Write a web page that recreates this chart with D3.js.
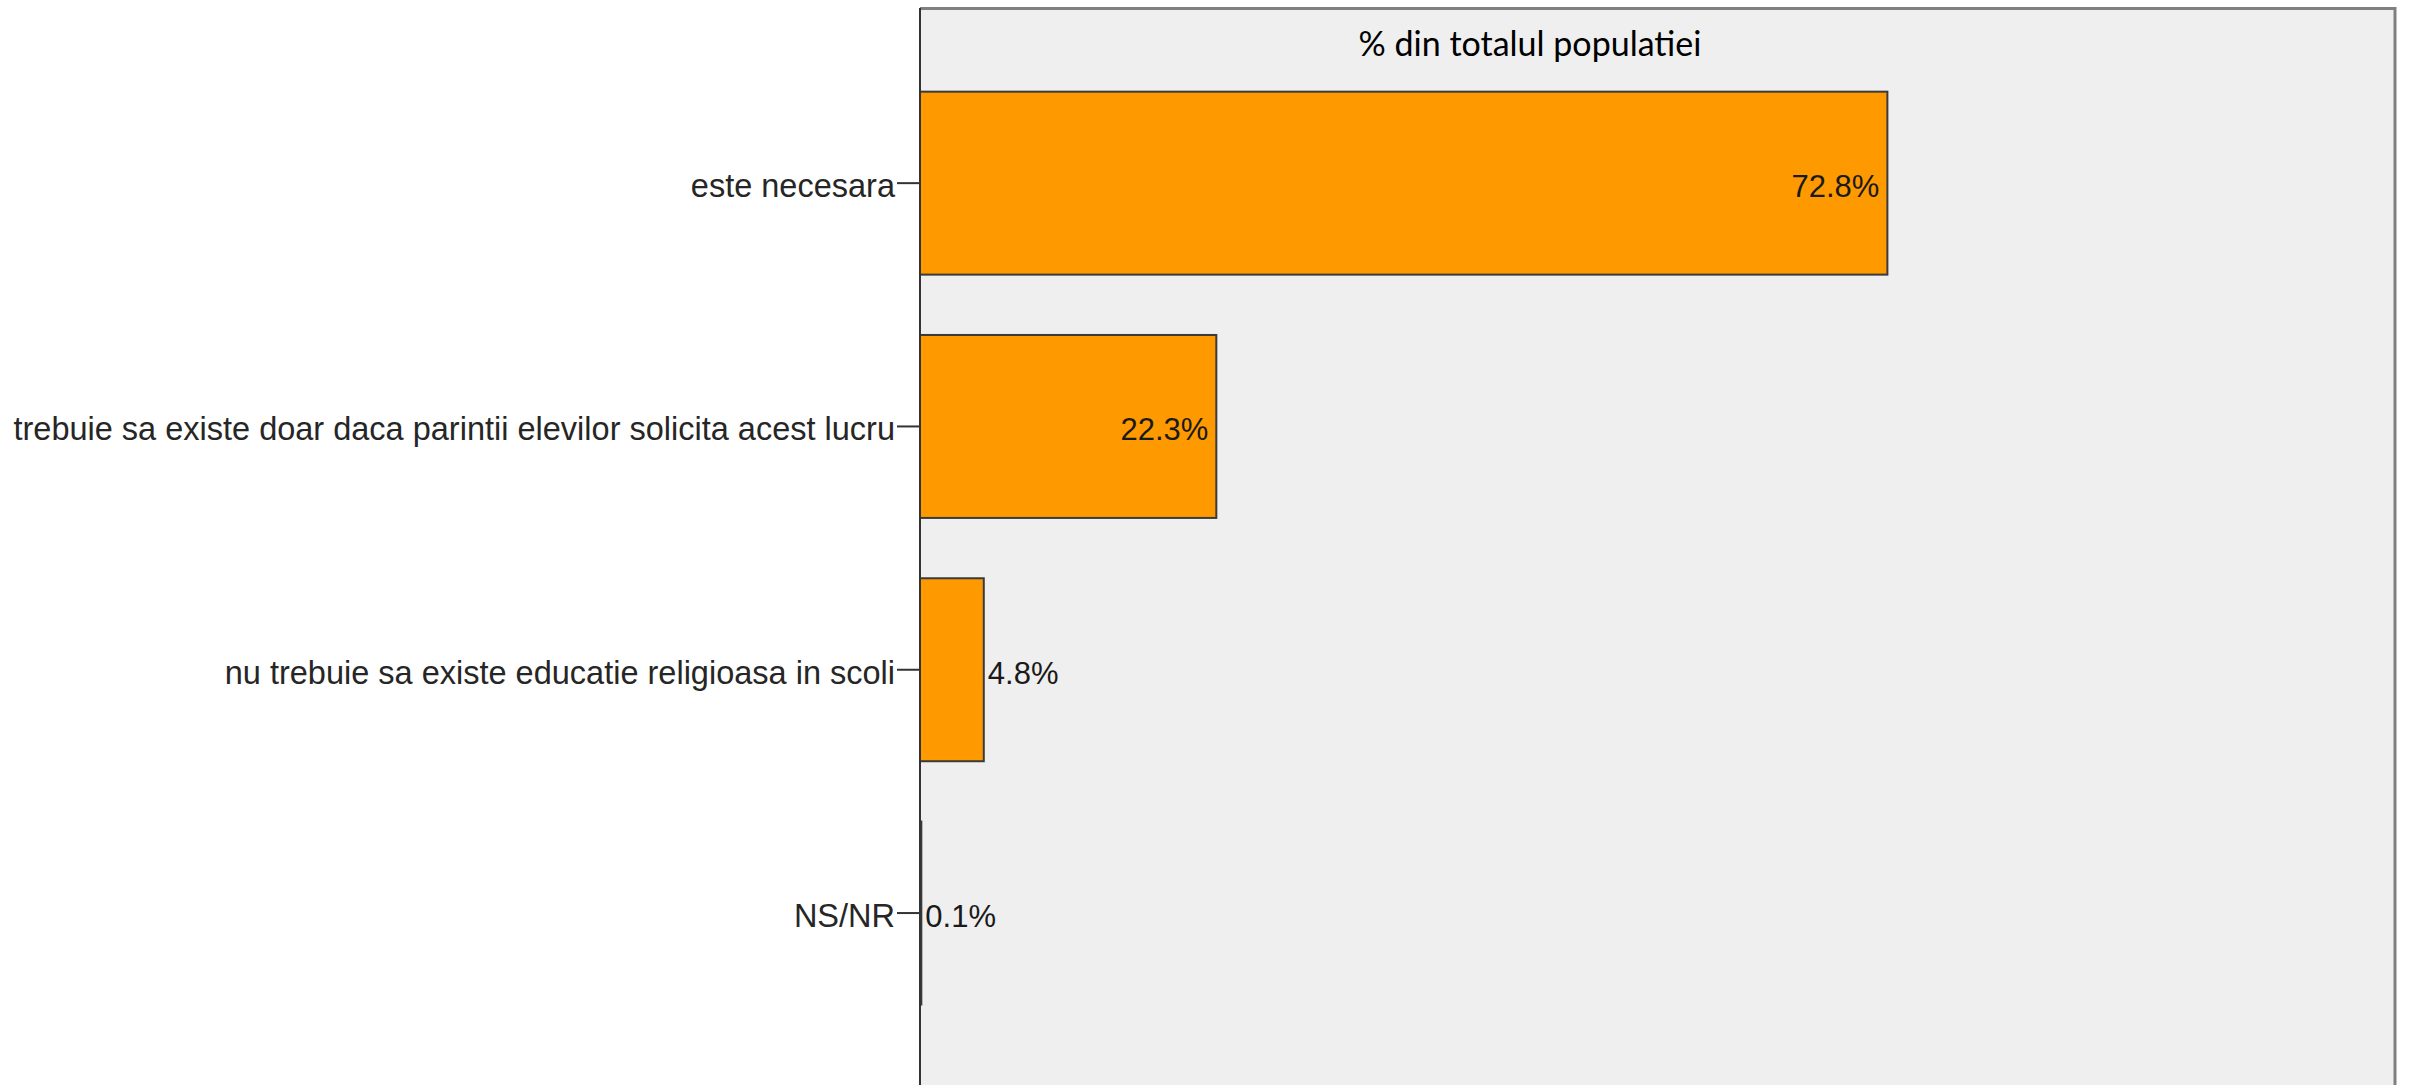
<!DOCTYPE html>
<html>
<head>
<meta charset="utf-8">
<script src="https://cdn.jsdelivr.net/npm/d3@7"></script>
<style>
  html, body { margin: 0; padding: 0; background: #ffffff; }
  svg { display: block; }
</style>
</head>
<body>
<svg id="chart" width="2415" height="1085"></svg>
<script>
const categories = [
  "este necesara",
  "trebuie sa existe doar daca parintii elevilor solicita acest lucru",
  "nu trebuie sa existe educatie religioasa in scoli",
  "NS/NR"
];
const values = [72.8, 22.3, 4.8, 0.1];
const valueLabels = ["72.8%", "22.3%", "4.8%", "0.1%"];
const panelTitle = "% din totalul populatiei";
const xDomainMax = 111;

const W = 2415, H = 1085;
const plotLeft = 920, plotRight = 2395, plotTop = 8;

const svg = d3.select("#chart");

const x = d3.scaleLinear().domain([0, xDomainMax]).range([plotLeft, plotRight]);
const y = d3.scaleBand().domain(categories)
  .range([61.5, 1034.7]).paddingInner(0.248).paddingOuter(0.124);

// plot background
svg.append("rect")
  .attr("x", plotLeft).attr("y", plotTop)
  .attr("width", plotRight - plotLeft).attr("height", H - plotTop + 10)
  .attr("fill", "#efefef");

// top and right border (gray)
svg.append("path")
  .attr("d", `M${plotLeft},${plotTop + 0.5} H${plotRight} V${H + 5}`)
  .attr("fill", "none").attr("stroke", "#808080").attr("stroke-width", 3);

// panel title
svg.append("text")
  .attr("x", 1530).attr("y", 56)
  .attr("text-anchor", "middle")
  .attr("font-family", "Lato, 'Open Sans', sans-serif")
  .attr("font-size", 34)
  .attr("fill", "#000")
  .text(panelTitle);

// bars
svg.selectAll("rect.bar").data(categories).enter().append("rect")
  .attr("class", "bar")
  .attr("x", x(0))
  .attr("y", d => y(d))
  .attr("width", (d, i) => x(values[i]) - x(0))
  .attr("height", y.bandwidth())
  .attr("fill", "#ff9900")
  .attr("stroke", "#3a3a3a")
  .attr("stroke-width", 2);

// y axis
const yAxis = d3.axisLeft(y).tickSize(23).tickPadding(2);
const gy = svg.append("g")
  .attr("transform", `translate(${plotLeft},0)`)
  .call(yAxis);
gy.select(".domain").remove();
gy.selectAll(".tick line").attr("stroke", "#333").attr("stroke-width", 2);
gy.selectAll(".tick text")
  .attr("font-family", "'Liberation Sans', Arial, sans-serif")
  .attr("font-size", 32.5)
  .attr("fill", "#262626")
  .attr("dy", null)
  .attr("y", 14);

// axis line (left edge of plot)
svg.append("line")
  .attr("x1", plotLeft).attr("x2", plotLeft)
  .attr("y1", plotTop).attr("y2", H + 5)
  .attr("stroke", "#333").attr("stroke-width", 2);

// value labels
const lbl = svg.selectAll("text.val").data(categories).enter().append("text")
  .attr("class", "val")
  .attr("font-family", "'Liberation Sans', Arial, sans-serif")
  .attr("font-size", 31)
  .attr("fill", "#1a1a1a")
  .attr("y", d => y(d) + y.bandwidth() / 2 + 14)
  .text((d, i) => valueLabels[i]);

lbl.each(function(d, i) {
  const t = d3.select(this);
  const w = this.getComputedTextLength();
  const barW = x(values[i]) - x(0);
  if (w + 16 < barW) {
    t.attr("x", x(values[i]) - 8).attr("text-anchor", "end");
  } else {
    t.attr("x", x(values[i]) + 4).attr("text-anchor", "start");
  }
});
</script>
</body>
</html>
